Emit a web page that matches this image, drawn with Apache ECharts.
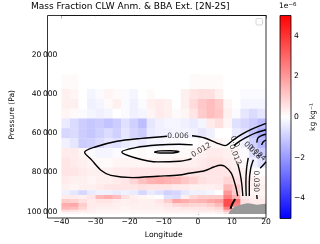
<!DOCTYPE html>
<html><head><meta charset="utf-8">
<script src="https://cdn.jsdelivr.net/npm/echarts@6/dist/echarts.min.js"></script>
<style>html,body{margin:0;padding:0;background:#fff}#c{width:320px;height:244px}</style>
</head><body><div id="c"></div>
<script>
// ---- data ----
const lonEdges = [-40,-37.5,-35,-32.5,-30,-27.5,-25,-22.5,-20,-17.5,-15,-12.5,-10,-7.5,-5,-2.5,0,2.5,5,7.5,10,12.5,15,17.5,20];
const presEdges = [0,30000,37500,42500,47500,52500,57500,62500,67500,72500,77500,82000,86000,89000,91500,93500,95500,97500,99000,100200,101150];
// CLW anomaly (1e-6 kg/kg), one row per pressure band, one value per longitude band
const clwAnom = [
 [0,0,0,0,0,0,0,0,0,0,0,0,0,0,0,0,0,0,0,0,0,0,0,0],
 [0.1,0.1,0,0,0,0,0,0,0,0,0,0,0,0,0,0.1,0.1,0.1,0.1,0,0,0,0,0],
 [0.3,0.2,0,-0.2,-0.1,0.2,0.1,-0.1,-0.2,0,0.1,0,0,0,0.3,0.5,0.6,0.6,0.3,0,0,-0.1,-0.1,-0.1],
 [0.3,0.3,0,-0.3,-0.2,0.1,0.3,-0.1,-0.3,-0.1,0.3,0.4,0.3,0,0.3,0.7,1.1,1.3,1.0,0.2,0,-0.2,-0.2,-0.2],
 [0.2,0.1,-0.1,-0.2,-0.3,-0.2,0,-0.1,-0.3,-0.2,0.2,0.4,0.3,0.1,0.2,0.5,1.0,1.3,1.1,0.3,-0.1,-0.5,-0.7,-0.5],
 [-0.4,-0.7,-1.0,-1.1,-1.0,-1.2,-1.0,-0.6,-0.9,-1.3,-0.5,-0.3,-0.2,-0.2,-0.3,-0.4,-0.2,0.4,0.6,0.2,-0.6,-0.8,-1.0,-1.3],
 [-0.8,-0.7,-1.0,-1.1,-0.9,-0.7,-0.9,-0.5,-0.8,-1.0,-0.4,-0.3,-0.3,-0.2,-0.2,-0.3,-0.5,-0.3,0,0,-0.4,-0.6,-1.2,-1.6],
 [-0.3,-0.5,-1.0,-0.9,-0.7,-0.5,-0.6,-0.4,-0.3,-0.4,-0.2,-0.2,-0.1,-0.1,0,0,0.1,0.2,0.2,0.1,0,-0.3,-0.9,-1.4],
 [0.4,0.4,0.2,-0.1,-0.2,-0.2,-0.1,0,0,0.1,0,0.1,0.1,0.1,0.1,0.2,0.3,0.4,0.4,0.3,0.2,-0.1,-0.6,-1.0],
 [0.5,0.4,0.3,0.2,0.1,0.1,0.2,0.2,0.2,0.2,0.2,0.2,0.2,0.3,0.3,0.3,0.4,0.5,0.5,0.4,0.3,0.1,-0.3,-0.6],
 [0.5,0.5,0.4,0.3,0.3,0.3,0.4,0.4,0.5,0.5,0.5,0.5,0.5,0.5,0.5,0.5,0.5,0.5,0.5,0.5,0.4,0.3,0.1,0],
 [0.4,0.3,0.3,0.2,0.3,0.3,0.4,0.5,0.8,1.2,1.5,1.6,1.5,1.4,1.1,0.9,0.6,0.5,0.5,0.8,0.6,0.4,0.3,0.2],
 [0.3,0.2,0.3,0.3,0.4,0.5,0.5,0.5,0.5,0.6,0.5,0.5,0.5,0.4,0.4,0.3,0.3,0.3,0.4,1.4,1.0,0.4,0.3,0.3],
 [-0.3,-0.5,-0.8,-0.4,-0.3,-0.3,-0.4,-0.3,-0.4,-0.8,-0.4,-0.6,-0.9,-0.8,-0.5,-0.3,-0.3,-0.2,0,2.0,1.0,0.3,0.2,0.2],
 [0.4,0.4,0.3,0.5,1.4,1.6,1.3,0.6,0.3,0.2,0.1,0,-0.6,-0.7,0.3,0.8,1.0,1.0,1.0,2.5,1.5,0.4,0.3,0.3],
 [1.0,0.9,0.6,0.4,0.5,0.5,0.4,0.3,0.4,0.3,0.3,0.5,1.0,1.8,1.6,1.4,1.5,1.7,1.9,3.5,2.8,0.6,0.4,0.4],
 [1.6,1.7,1.0,0.4,0.4,0.4,0.3,0.3,0.3,0.3,0.3,0.4,0.5,0.8,0.9,0.8,0.8,1.0,1.4,3.5,2.5,0.5,0.4,0.4],
 [1.4,1.3,0.8,0.4,0.3,0.3,0.3,0.2,0.3,0.3,0.3,0.3,0.4,0.4,0.5,0.5,0.5,0.6,0.8,2.5,0.8,0.4,0.3,0.3],
 [0.6,0.5,0.4,0.3,0.2,0.2,0.2,0.2,0.2,0.2,0.2,0.2,0.3,0.3,0.3,0.3,0.4,0.4,0.5,1.2,0.4,0.3,0.2,0.2],
 [0.2,0.2,0.2,0.2,0.2,0.2,0.2,0.1,0.2,0.2,0.2,0.2,0.2,0.2,0.2,0.2,0.2,0.2,0.3,0.6,0.2,0.2,0.2,0.2]
];
// BBA extinction contours: [lon, Pa] paths (segments broken at inline labels)
const contour006 = [
 [[20,55000],[16,57800],[13,60500],[10.2,63700],[8.0,66300],[5.6,65000],[2.0,62400],[-1.7,61300]],
 [[-9.0,61500],[-16.4,62600],[-23.7,64100],[-30.1,67000],[-33.2,69700],[-31.1,73700],[-28.3,79000],[-25.5,81500],[-19.1,82600],[-11.8,81900],[-5.4,81300],[-2.6,80400],[2.0,79100],[4.7,77200],[6.6,76300],[7.9,76800],[9.8,80300],[11.1,87000],[11.7,92000]]
];
const contour012 = [
 [[-1.5,65900],[-5.4,65600],[-11.8,66000],[-18.2,67300],[-22.3,69500],[-18.2,72600],[-11.8,74600],[-5.4,74300],[-3.0,73600],[-1.8,72900]],
 [[20,58200],[17,59800],[14.5,61800],[12.3,64000],[10.6,66300]],
 [[11.7,75500],[12.4,80500],[12.9,86000],[13.2,92000]]
];
const contour018 = [
 [[-12.8,69600],[-11,69000],[-8,68900],[-5.5,69400],[-8,70100],[-11,70100],[-12.8,69600]],
 [[20,60500],[18.5,61300],[17.6,62500],[17.3,64800]],
 [[14.8,72500],[14.3,78000],[14.1,85000],[14.2,92000]]
];
const contour024 = [
 [[20,63500],[19.2,64300],[18.7,66000]],
 [[16.3,73500],[15.5,78000],[15.1,85000],[15.1,92000]]
];
const contour030 = [
 [[20,74500],[19.2,76200],[18.3,77800]],
 [[17.3,91500],[17.4,93500]]
];
const contourSurf = [[9.6,98500],[10.0,96500],[10.6,94500],[11.0,93600]];
const contourLabels = [
 ['0.006',-5.8,61500,0],
 ['0.012',1.0,68600,30],
 ['0.0',10.9,64300,-60],
 ['0.012',10.9,71000,-68],
 ['0.018',16.0,68800,-45],
 ['0.024',17.3,70000,-40],
 ['0.030',17.2,84500,-90]
];
const terrain = [[9.0,101150],[9.4,99800],[10.0,98500],[10.8,97500],[11.8,96800],[13.0,96200],[14.5,95700],[15.5,95800],[16.5,96200],[17.5,96400],[18.5,96200],[20,95900]];
const yTicks = [20000,40000,60000,80000,100000];
const cbTicks = [-4,-2,0,2,4];

// ---- build ----
const cells = [];
for (let i = 0; i < clwAnom.length; i++)
  for (let j = 0; j < clwAnom[i].length; j++)
    cells.push([lonEdges[j], lonEdges[j+1], presEdges[i], presEdges[i+1], clwAnom[i][j]]);

const FONT = 'DejaVu Sans';
const minus = v => String(v).replace('-', '\u2212');
const thin = v => Math.round(v).toString().replace(/\B(?=(\d{3})+(?!\d))/g, '\u2009');

const series = [{
  type: 'custom', xAxisIndex: 0, yAxisIndex: 0, data: cells,
  encode: {x: [0, 1], y: [2, 3]}, clip: true, silent: true, z: 1,
  renderItem(params, api) {
    const a = api.coord([api.value(0), api.value(2)]);
    const b = api.coord([api.value(1), api.value(3)]);
    return {type: 'rect', shape: {x: Math.min(a[0], b[0]), y: Math.min(a[1], b[1]),
      width: Math.abs(b[0] - a[0]) + 0.4, height: Math.abs(b[1] - a[1]) + 0.4},
      style: {fill: api.visual('color')}};
  }
}, {
  type: 'line', data: terrain, symbol: 'none', silent: true, z: 3,
  lineStyle: {width: 0}, areaStyle: {color: '#999999', opacity: 1, origin: 'end'}
}];
function addLines(segs, w) {
  segs.forEach(s => series.push({type: 'line', data: s, symbol: 'none', smooth: 0.3, silent: true, z: 4,
    lineStyle: {color: '#000', width: w}}));
}
addLines(contour006, 1.4); addLines(contour012, 1.4); addLines(contour018, 1.4);
addLines(contour024, 1.4); addLines(contour030, 1.4); addLines([contourSurf], 2);
series.push({
  type: 'scatter', symbolSize: 0, silent: true, z: 5,
  data: contourLabels.map(l => ({name: l[0], value: [l[1], l[2]], label: {rotate: l[3]}})),
  label: {show: true, position: 'inside', formatter: p => p.name, color: '#000', fontSize: 7.5, fontFamily: FONT}
});

const chart = echarts.init(document.getElementById('c'), null, {renderer: 'canvas'});
chart.setOption({
  animation: false,
  backgroundColor: '#fff',
  title: {text: 'Mass Fraction CLW Anm. & BBA Ext. [2N-2S]', left: 31, top: 2, padding: 0,
    textStyle: {fontSize: 9, fontWeight: 'normal', color: '#000', fontFamily: FONT}},
  grid: [{left: 47.5, top: 15.5, width: 218.5, height: 202.5},
         {left: 280, top: 15.5, width: 11, height: 203}],
  visualMap: {show: false, type: 'continuous', min: -5, max: 5, dimension: 4, seriesIndex: 0,
    inRange: {color: ['#0000ff', '#ffffff', '#ff0000']}},
  xAxis: [{
    type: 'value', gridIndex: 0, min: -40, max: 20, interval: 10,
    axisLine: {show: true, lineStyle: {color: '#000', width: 0.8}},
    axisTick: {show: true, length: 3, lineStyle: {color: '#000', width: 0.8}},
    axisLabel: {fontSize: 7.6, color: '#000', fontFamily: FONT, margin: 4, formatter: minus},
    splitLine: {show: false},
    name: 'Longitude', nameLocation: 'middle', nameGap: 17,
    nameTextStyle: {fontSize: 7.6, color: '#000', fontFamily: FONT}
  }, {
    type: 'value', gridIndex: 1, min: 0, max: 1, show: false
  }],
  yAxis: [{
    type: 'value', gridIndex: 0, inverse: true, min: 0, max: 101150, interval: 20000,
    axisLine: {show: true, lineStyle: {color: '#000', width: 0.8}},
    axisTick: {show: true, length: 3, customValues: yTicks, lineStyle: {color: '#000', width: 0.8}},
    axisLabel: {fontSize: 7.6, color: '#000', fontFamily: FONT, margin: 4, customValues: yTicks,
      formatter: v => v === 0 ? '' : thin(v)},
    splitLine: {show: false},
    name: 'Pressure (Pa)', nameLocation: 'middle', nameGap: 36, nameRotate: 90,
    nameTextStyle: {fontSize: 7.6, color: '#000', fontFamily: FONT}
  }, {
    type: 'value', gridIndex: 1, min: -5, max: 5, position: 'right',
    axisLine: {show: false},
    axisTick: {show: true, length: 3, customValues: cbTicks, lineStyle: {color: '#000', width: 0.8}},
    axisLabel: {fontSize: 7.6, color: '#000', fontFamily: FONT, margin: 3, customValues: cbTicks, formatter: minus},
    splitLine: {show: false},
    name: 'kg kg\u207B\u00B9', nameLocation: 'middle', nameGap: 18, nameRotate: 90,
    nameTextStyle: {fontSize: 7.6, color: '#000', fontFamily: FONT}
  }],
  graphic: [
    {type: 'rect', shape: {x: 47.5, y: 15.5, width: 218.5, height: 202.5}, z: 100, silent: true,
     style: {fill: 'none', stroke: '#000', lineWidth: 0.8}},
    {type: 'rect', shape: {x: 256, y: 18.5, width: 6.5, height: 6.5, r: 1}, z: 100, silent: true,
     style: {fill: 'rgba(255,255,255,0.8)', stroke: '#cccccc', lineWidth: 0.8}},
    {type: 'rect', shape: {x: 280, y: 15.5, width: 11, height: 203}, z: 100, silent: true,
     style: {stroke: '#000', lineWidth: 0.8,
       fill: new echarts.graphic.LinearGradient(0, 0, 0, 1, [
         {offset: 0, color: '#ff0000'}, {offset: 0.5, color: '#ffffff'}, {offset: 1, color: '#0000ff'}])}},
    {type: 'text', x: 279, y: 2, z: 100, silent: true,
     style: {text: '1e{s|\u22126}', fill: '#000', fontSize: 7.6, fontFamily: FONT,
       rich: {s: {fontSize: 5.5, verticalAlign: 'top', fontFamily: FONT, fill: '#000'}}}}
  ],
  series: series
});
</script></body></html>
